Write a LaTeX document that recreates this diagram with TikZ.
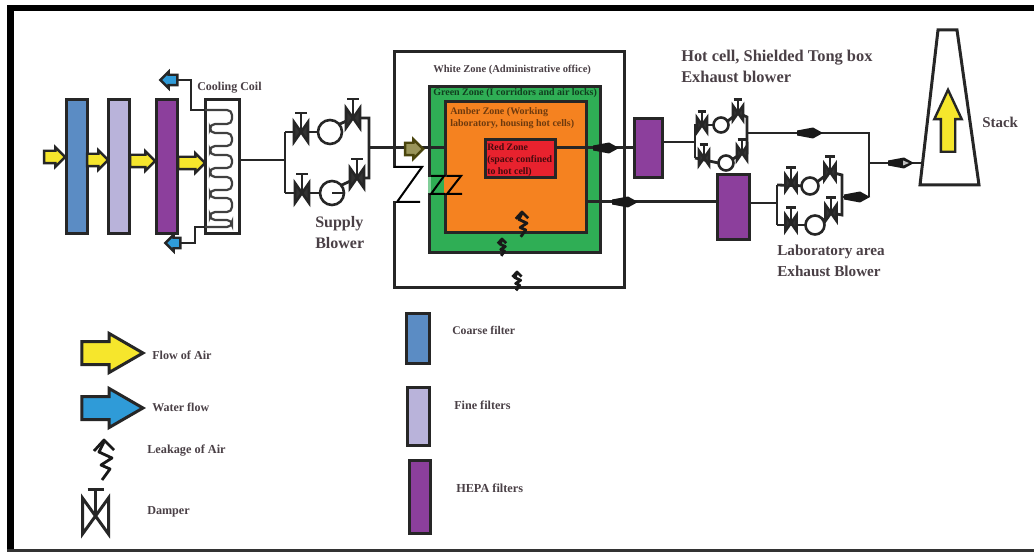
\documentclass[tikz,border=0pt]{standalone}
\usepackage{fontspec}
\setmainfont{Liberation Serif}
\usetikzlibrary{shapes.arrows,shapes.geometric}
\definecolor{coarseblue}{HTML}{5B8CC4}
\definecolor{finelav}{HTML}{B9B3DA}
\definecolor{hepapurple}{HTML}{8C3F9C}
\definecolor{zonegreen}{HTML}{2FAE55}
\definecolor{zoneorange}{HTML}{F58220}
\definecolor{zonered}{HTML}{E8222E}
\definecolor{airyellow}{HTML}{F6E62C}
\definecolor{waterblue}{HTML}{2F9BD8}
\definecolor{inkgrey}{HTML}{4A4046}
\def\u{0.75pt}
\newcommand{\rectnode}[6]{\node[#1,minimum width={(#5-#3)*\u},minimum height={(#6-#4)*\u}] (#2) at ({(#3+#5)/2},{(#4+#6)/2}) {};}
\tikzset{
  pipe/.style={line width=2.8*\u,draw=black!85},
  thinz/.style={line width=2*\u,draw=black},
  boxbase/.style={draw=black!85,line width=3*\u,inner sep=0pt,outer sep=0pt,rectangle},
  coarse/.style={boxbase,fill=coarseblue},
  fine/.style={boxbase,fill=finelav},
  hepa/.style={boxbase,fill=hepapurple},
  blowerc/.style={circle,draw=black!85,line width=2.6*\u,fill=white,inner sep=0pt,outer sep=0pt},
  airarrow/.style={single arrow,draw=black!85,fill=airyellow,line width=2.4*\u,inner xsep=0pt,inner ysep=5*\u,outer sep=0pt,single arrow head extend=3.5*\u,shape border rotate=0},
  waterarrow/.style={airarrow,fill=waterblue,inner ysep=4*\u,single arrow head extend=3*\u},
  bigarrow/.style={line width=3*\u,inner ysep=10*\u,single arrow head extend=8*\u,single arrow tip angle=60},
  lbl/.style={anchor=west,inner sep=0pt,text=inkgrey,font=\bfseries\fontsize{#1}{#1}\selectfont},
  lbl/.default=7,
  damper/.pic={
    \draw[line width=2.6*\u,draw=black!85,fill=black!80,line join=miter] (-7,-10) -- (7,10) -- (7,-10) -- (-7,10) -- cycle;
    \draw[line width=2.6*\u,draw=black!85] (0,0) -- (0,-19) (-6,-19) -- (6,-19);
  },
  legenddamper/.pic={
    \draw[line width=3*\u,draw=black!85,line join=miter] (-13,-18) -- (13,18) -- (13,-18) -- (-13,18) -- cycle;
    \draw[line width=3*\u,draw=black!85] (0,0) -- (0,-27) (-8,-27) -- (8,-27);
  },
  leak/.pic={
    \draw[line width=2.8*\u,draw=black!90,line join=round] (-10,11) -- (0,0) -- (10,10);
    \draw[line width=2.8*\u,draw=black!90,line join=round] (0,2) -- (-5,12) -- (8,18) -- (-3,25) -- (6,29) -- (-2,40);
  },
  flowmark/.pic={
    \fill[black!90] (-13,-2.5) -- (3,-5.5) -- (13,0) -- (3,5.5) -- (-13,2.5) -- cycle;
  },
  flowmarkin/.pic={
    \fill[black!90] (-13,-2.5) -- (3,-5.5) -- (13,0) -- (3,5.5) -- (-13,2.5) -- cycle;
    \fill[black!25] (2,-2.5) -- (8,0) -- (2,2.5) -- cycle;
  },
}
\begin{document}
\begin{tikzpicture}[x=0.75pt,y=-0.75pt]
\useasboundingbox (0,0) rectangle (1034,552);
\fill[white] (0,0) rectangle (1034,552);
% frame
\fill[black] (7,5) rectangle (1034,11);
\fill[black] (7,5) rectangle (14,552);
\fill[black!80] (7,549) rectangle (1034,552);

% --- filters
\rectnode{coarse}{f1}{66}{100}{87}{234}
\rectnode{fine}{f2}{108}{100}{129}{234}
\rectnode{hepa}{f3}{156}{100}{177}{234}
\rectnode{boxbase,fill=white}{coil}{205}{100}{239}{234}
% yellow arrows
\node[airarrow,minimum height=21*\u] (a1) at (51.5,157) {};
\node[airarrow,minimum height=21*\u] (a2) at (94.5,160) {};
\node[airarrow,minimum height=25*\u] (a3) at (139.5,161) {};
\node[airarrow,minimum height=27*\u] (a4) at (188.5,163) {};
% coil
\draw[line width=2.2*\u,draw=black!75,rounded corners=5*\u]
 (205,110) -- (232,110) -- (232,124) -- (210,124) -- (210,133) -- (232,133) -- (232,146) -- (210,146)
 -- (210,155) -- (232,155) -- (232,168) -- (210,168) -- (210,177) -- (232,177) -- (232,190) -- (210,190)
 -- (210,198) -- (232,198) -- (232,212) -- (210,212) -- (210,220) -- (232,220) -- (232,227) -- (205,227);
% cooling pipes
\node[waterarrow,minimum height=17*\u,shape border rotate=180] (w1) at (171.5,80) {};
\node[waterarrow,minimum height=15*\u,shape border rotate=180] (w2) at (175.5,243) {};
\coordinate (cu1) at (191,80); \coordinate (cu2) at (191,110); \coordinate (cu3) at (205,110);
\coordinate (cd1) at (195,243); \coordinate (cd2) at (195,227); \coordinate (cd3) at (205,227);
\draw[pipe] (w1) -- (cu1) -- (cu2) -- (cu3);
\draw[pipe] (w2) -- (cd1) -- (cd2) -- (cd3);

% --- supply blower
\coordinate (sin) at (239,160); \coordinate (sL) at (285,160);
\coordinate (sLt) at (285,132); \coordinate (sLb) at (285,193);
\coordinate (sRt) at (369,118); \coordinate (sRb) at (369,178); \coordinate (sR) at (369,148);
\node[blowerc,minimum size=24*\u] (sb1) at (330,132) {};
\node[blowerc,minimum size=24*\u] (sb2) at (332,193) {};
\coordinate (sd2) at (353,118); \coordinate (sd4) at (357,178);
\draw[pipe] (sin) -- (sL);
\draw[pipe] (sLt) -- (sLb);
\draw[pipe] (sLt) -- (sb1);
\draw[pipe] (sLb) -- (sb2);
\draw[pipe] (sb1.40) -- (sd2) -- (sRt) -- (sRb) -- (sd4) -- (sb2.40);
\draw[pipe] (sb2.center) -- (sb2.east);
\pic at (301,132) {damper};
\pic at (302,193) {damper};
\pic at (353,118) {damper};
\pic at (357,178) {damper};

% --- zones
\rectnode{boxbase,fill=white}{white}{394}{52}{624}{287}
\fill[white] (391,168) rectangle (397,201);
\rectnode{boxbase,fill=zonegreen}{green}{429}{87}{600}{252}
\rectnode{boxbase,fill=zoneorange}{amber}{445}{102}{586}{233}
\rectnode{boxbase,fill=zonered}{red}{485}{140}{555}{178}
% breaks in the walls
\fill[zonegreen!60!white] (427.5,177) rectangle (431,193);
\fill[zoneorange] (443.5,177) rectangle (447,193);
\coordinate (z1a) at (394,167); \coordinate (z1b) at (422,167); \coordinate (z1c) at (397,202); \coordinate (z1d) at (420,202);
\coordinate (z2a) at (431,176); \coordinate (z2b) at (444,176); \coordinate (z2c) at (431,194); \coordinate (z2d) at (445,194);
\coordinate (z3a) at (447,176); \coordinate (z3b) at (461,176); \coordinate (z3c) at (447,194); \coordinate (z3d) at (462,194);
\draw[thinz] (z1a) -- (z1b) -- (z1c) -- (z1d);
\draw[thinz] (z2a) -- (z2b) -- (z2c) -- (z2d);
\draw[thinz] (z3a) -- (z3b) -- (z3c) -- (z3d);
% zone flows
\coordinate (zin) at (445,148);
\draw[pipe,line width=3*\u] (sR) -- (zin);
\node[airarrow,fill=airyellow!45!black!70,draw=black!70!airyellow,minimum height=18*\u] (a5) at (411,149) {};
\coordinate (rout) at (634,148);
\draw[pipe,line width=3*\u] (red.east |- rout) -- (rout);
\coordinate (aout) at (717,202);
\draw[pipe,line width=3*\u] (amber.east |- aout) -- (aout);
\pic at (606,148) {flowmark};
\pic at (625,202) {flowmark};
\pic[scale=.62] at (522,212) {leak};
\pic[scale=.42] at (502,239) {leak};
\pic[scale=.46] at (517,272) {leak};

% --- exhaust right side
\rectnode{hepa}{p1}{634}{119}{662}{178}
\rectnode{hepa}{p2}{717}{175}{749}{240}
% hot cell blower
\coordinate (hL) at (695,142); \coordinate (hLt) at (695,127); \coordinate (hLb) at (695,158);
\coordinate (hRt) at (747,117); \coordinate (hRb) at (747,153); \coordinate (hO) at (747,133);
\coordinate (hJ) at (869,133); \coordinate (hJ2) at (869,163); \coordinate (hJ3) at (869,197);
\coordinate (hd2) at (738,113); \coordinate (hd4) at (742,153);
\node[blowerc,minimum size=15*\u] (hb1) at (721,125) {};
\node[blowerc,minimum size=15*\u] (hb2) at (726,163) {};
\draw[pipe] (p1.east |- hL) -- (hL);
\draw[pipe] (hLt) -- (hLb);
\draw[pipe] (hLt) -- (hb1 -| hLt) -- (hb1);
\draw[pipe] (hLb) -- (hb2.west);
\draw[pipe] (hb1.30) -- (hd2) -- (hRt) -- (hRb) -- (hd4) -- (hb2.30);
\draw[pipe] (hO) -- (hJ) -- (hJ3);
\pic[scale=.72] at (702,125) {damper};
\pic[scale=.72] at (704,158) {damper};
\pic[scale=.72] at (738,113) {damper};
\pic[scale=.72] at (742,153) {damper};
\pic at (810,133) {flowmark};
% lab blower
\coordinate (lL) at (777,203); \coordinate (lLt) at (777,185); \coordinate (lLb) at (777,225);
\coordinate (lRt) at (842,175); \coordinate (lRb) at (842,215); \coordinate (lO) at (842,197);
\coordinate (ld2) at (830,172); \coordinate (ld4) at (831,213);
\node[blowerc,minimum size=17*\u] (lb1) at (810,186) {};
\node[blowerc,minimum size=19*\u] (lb2) at (815,225) {};
\draw[pipe] (p2.east |- lL) -- (lL);
\draw[pipe] (lLt) -- (lLb);
\draw[pipe] (lLt) -- (lb1);
\draw[pipe] (lLb) -- (lb2);
\draw[pipe] (lb1.30) -- (ld2) -- (lRt) -- (lRb) -- (ld4) -- (lb2.30);
\draw[pipe] (lO) -- (hJ3);
\pic[scale=.8] at (791,183) {damper};
\pic[scale=.8] at (791,223) {damper};
\pic[scale=.8] at (830,172) {damper};
\pic[scale=.8] at (831,213) {damper};
\pic at (857,197) {flowmark};
% stack
\draw[draw=black!85,line width=3*\u,fill=white] (938,30) -- (957,30) -- (979,185) -- (920,185) -- cycle;
\coordinate (stin) at (923,163);
\draw[pipe] (hJ2) -- (stin);
\pic at (901,163) {flowmarkin};
\node[airarrow,minimum height=62*\u,rotate=90,inner ysep=6*\u,single arrow head extend=6.5*\u,single arrow tip angle=50] (a6) at (948,128.5) {};

% --- legend
\node[airarrow,bigarrow,minimum height=61*\u] (lga) at (102.5,353) {};
\node[waterarrow,bigarrow,minimum height=61*\u] (lgw) at (102.5,408) {};
\pic at (104,440) {leak};
\pic at (95.5,516) {legenddamper};
\rectnode{coarse}{lf1}{406}{313}{429}{363}
\rectnode{fine}{lf2}{407}{387}{429}{445}
\rectnode{hepa}{lf3}{409}{460}{430}{533}

% --- labels
\node[lbl=9] (t1) at (197,88) {Cooling Coil};
\node[lbl=12] (t2) at (315,224) {Supply};
\node[lbl=12] (t3) at (315,243) {Blower};
\node[lbl=7.9] (t4) at (433,70) {White Zone (Administrative office)};
\node[lbl=7.5,text=black!40!zonegreen!60!black] (t5) at (433,93) {Green Zone (I corridors and air locks)};
\node[lbl=7.5,text=black!55!zoneorange] (t6) at (450,112) {Amber Zone (Working};
\node[lbl=7.5,text=black!55!zoneorange] (t7) at (450,124) {laboratory, housing hot cells)};
\node[lbl=7.4,text=black!70!zonered] (t8) at (487,147) {Red Zone};
\node[lbl=7.4,text=black!70!zonered] (t9) at (487,160) {(space confined};
\node[lbl=7.4,text=black!70!zonered] (t10) at (487,172) {to hot cell)};
\node[lbl=12.3] (t11) at (681,58) {Hot cell, Shielded Tong box};
\node[lbl=12.3] (t12) at (681,77) {Exhaust blower};
\node[lbl=11.4] (t13) at (777,252) {Laboratory area};
\node[lbl=11.4] (t14) at (777,271) {Exhaust Blower};
\node[lbl=11.2] (t15) at (982,122) {Stack};
\node[lbl=9.1] (t16) at (152,355) {Flow of Air};
\node[lbl=9] (t17) at (152,407) {Water flow};
\node[lbl=9.2] (t18) at (147,451) {Leakage of Air};
\node[lbl=9.1] (t19) at (147,512) {Damper};
\node[lbl=8.8] (t20) at (452,330) {Coarse filter};
\node[lbl=9.1] (t21) at (454,405) {Fine filters};
\node[lbl=9.2] (t22) at (456,488) {HEPA filters};
\end{tikzpicture}
\end{document}
